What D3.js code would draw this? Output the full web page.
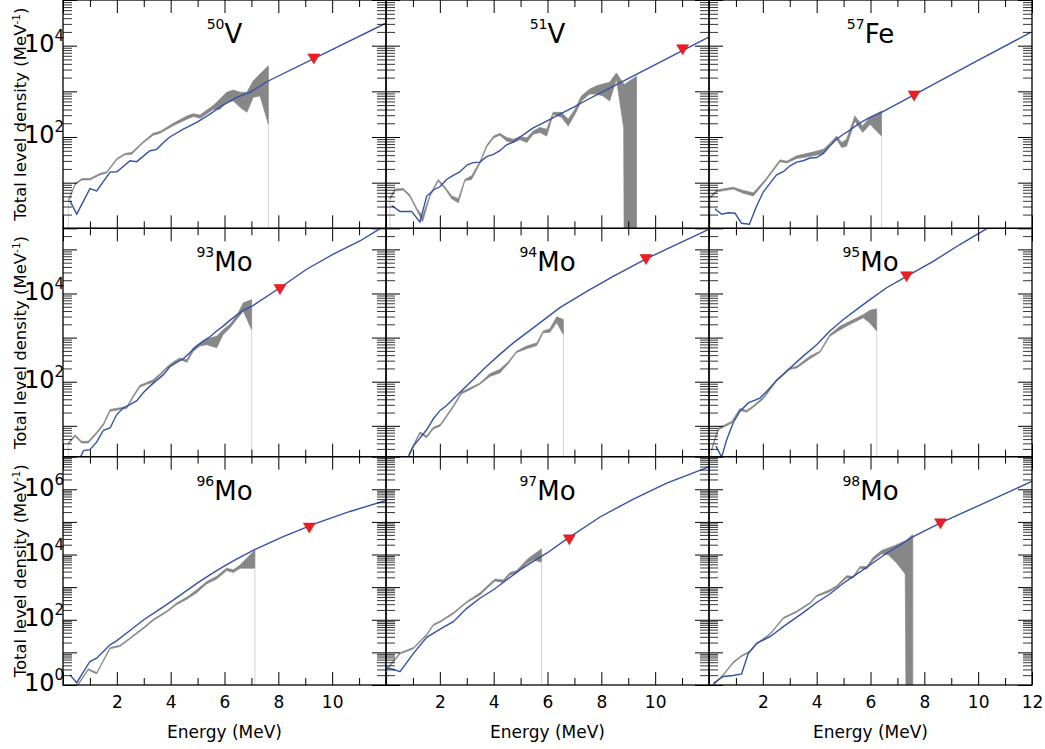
<!DOCTYPE html>
<html>
<head>
<meta charset="utf-8">
<script src="https://cdn.jsdelivr.net/npm/d3@7"></script>
<style>
  body { margin: 0; background: #fff; }
  svg { display: block; font-family: "DejaVu Sans", sans-serif; }
</style>
</head>
<body>
<div id="container"></div>
<script>
/* global d3 */

const width = 1045;
const height = 749;
const left = 63;
const panelW = 323;
const panelH = 228.33;

// axes setup
const xDomain = [0, 12];
const rowDomains = [[1, 1e5], [2, 3e5], [1, 1e7]];
const rowLabelExps = [[2, 4], [2, 4], [0, 2, 4, 6]];
const xTickLabels = [[2, 4, 6, 8, 10], [2, 4, 6, 8, 10], [2, 4, 6, 8, 10, 12]];

// nuclei (panel titles)
const massNumbers = [50, 51, 57, 93, 94, 95, 96, 97, 98];
const elements = ["V", "V", "Fe", "Mo", "Mo", "Mo", "Mo", "Mo", "Mo"];

// theory curves: [E (MeV), log10 rho]
const theory50V = [[0.26,0.60],[0.51,0.31],[1.0,0.87],[1.25,0.82],[1.75,1.23],[2.0,1.24],[2.49,1.48],[2.74,1.46],[3.23,1.70],[3.48,1.73],[3.79,1.91],[3.97,2.0],[4.47,2.17],[4.97,2.32],[5.46,2.50],[5.95,2.70],[6.45,2.87],[6.95,2.98],[7.57,3.21],[12.02,4.50]];
const theory51V = [[0.21,0.50],[0.52,0.37],[0.95,0.37],[1.26,0.14],[1.51,0.70],[1.76,0.84],[2.0,0.91],[2.25,1.07],[2.5,1.16],[2.75,1.24],[3.02,1.39],[3.24,1.44],[3.49,1.45],[3.74,1.57],[3.99,1.62],[4.23,1.70],[4.48,1.83],[4.73,1.89],[4.98,2.0],[5.23,2.10],[5.47,2.20],[5.97,2.35],[6.46,2.50],[6.96,2.65],[7.46,2.81],[7.95,2.96],[8.44,3.11],[8.94,3.26],[11.97,4.18]];
const theory57Fe = [[0.22,0.43],[0.47,0.31],[0.72,0.34],[0.97,0.33],[1.21,0.11],[1.50,0.09],[1.77,0.49],[2.02,0.80],[2.27,0.99],[2.51,1.17],[2.76,1.24],[3.01,1.37],[3.26,1.45],[3.50,1.48],[3.75,1.54],[4.0,1.55],[4.25,1.64],[4.49,1.80],[4.74,1.95],[4.99,2.06],[5.24,2.15],[5.49,2.26],[5.73,2.35],[5.98,2.43],[6.41,2.54],[7.10,2.76],[7.96,3.03],[9.94,3.66],[11.95,4.29]];
const theory93Mo = [[0.62,0.25],[0.76,0.44],[1.0,0.46],[1.25,0.63],[1.50,0.90],[1.75,0.95],[1.99,1.25],[2.24,1.41],[2.49,1.48],[2.74,1.57],[2.98,1.75],[3.23,1.90],[3.48,2.03],[3.73,2.16],[3.97,2.34],[4.22,2.44],[4.47,2.52],[4.72,2.66],[4.97,2.81],[5.21,2.92],[5.46,3.02],[5.71,3.15],[5.95,3.26],[6.20,3.39],[6.45,3.51],[6.70,3.62],[7.07,3.73],[8.06,4.13],[9.05,4.55],[10.04,4.89],[11.03,5.19],[11.78,5.47],[12.0,5.55]];
const theory94Mo = [[0.80,0.25],[0.83,0.29],[1.02,0.54],[1.26,0.72],[1.51,0.91],[1.76,1.16],[2.01,1.35],[2.25,1.46],[2.75,1.76],[3.24,2.05],[3.74,2.35],[4.23,2.62],[4.73,2.88],[5.47,3.22],[6.46,3.68],[7.46,4.05],[8.44,4.39],[9.68,4.79],[10.92,5.15],[11.97,5.45]];
const theory95Mo = [[0.26,0.54],[0.47,0.29],[0.66,0.69],[0.90,1.07],[1.15,1.33],[1.46,1.52],[1.89,1.63],[2.14,1.78],[2.51,2.03],[3.01,2.31],[3.50,2.58],[4.0,2.84],[4.49,3.15],[4.99,3.41],[5.49,3.64],[5.98,3.86],[6.60,4.13],[7.34,4.39],[8.33,4.73],[9.32,5.11],[10.32,5.47],[10.5,5.53]];
const theory96Mo = [[0.26,0.31],[0.51,0.07],[1.0,0.72],[1.25,0.82],[1.75,1.23],[2.0,1.36],[2.5,1.68],[3.0,2.0],[3.5,2.27],[4.0,2.55],[4.5,2.84],[5.0,3.13],[5.5,3.4],[6.0,3.65],[6.5,3.88],[7.12,4.15],[8.18,4.55],[9.42,4.96],[10.66,5.32],[12.02,5.66]];
const theory97Mo = [[0.03,0.53],[0.27,0.48],[0.52,0.41],[1.02,0.97],[1.51,1.46],[2.01,1.71],[2.50,1.94],[3.0,2.35],[3.49,2.66],[3.99,2.92],[4.48,3.22],[4.98,3.53],[5.47,3.79],[5.97,4.04],[6.71,4.47],[7.95,5.15],[9.19,5.70],[10.43,6.19],[11.97,6.68]];
const theory98Mo = [[0.16,0.05],[0.53,0.26],[0.90,0.29],[1.21,0.34],[1.46,0.97],[1.77,1.28],[2.27,1.48],[2.76,1.79],[3.50,2.22],[4.0,2.53],[4.49,2.79],[4.99,3.12],[5.49,3.40],[5.98,3.68],[6.60,4.04],[7.59,4.55],[8.58,4.96],[9.94,5.47],[11.99,6.24]];

// experimental bands: [E (MeV), log10 rho low, log10 rho high]
const exp50V = [[0.2,0.58,0.62],[0.45,0.95,0.98],[0.70,1.06,1.09],[1.0,1.06,1.09],[1.37,1.17,1.20],[1.62,1.21,1.24],[2.0,1.50,1.53],[2.3,1.61,1.64],[2.55,1.62,1.66],[2.98,1.87,1.90],[3.35,2.04,2.08],[3.6,2.08,2.12],[4.1,2.25,2.30],[4.6,2.39,2.46],[4.84,2.45,2.51],[5.09,2.41,2.48],[5.58,2.60,2.69],[5.83,2.61,2.83],[6.08,2.76,2.98],[6.33,2.79,3.03],[6.58,2.65,2.98],[6.83,2.54,2.98],[7.07,2.87,3.23],[7.32,2.90,3.38],[7.63,2.28,3.56]];
const exp51V = [[0.15,0.63,0.67],[0.33,0.82,0.86],[0.64,0.84,0.87],[0.89,0.69,0.73],[1.14,0.40,0.44],[1.36,0.14,0.27],[1.63,0.69,0.73],[1.94,1.03,1.07],[2.19,0.87,0.91],[2.44,0.65,0.71],[2.69,0.56,0.65],[2.93,1.04,1.07],[3.18,1.07,1.15],[3.49,1.42,1.46],[3.74,1.78,1.82],[4.0,1.98,2.02],[4.23,2.04,2.08],[4.48,1.91,1.99],[4.73,1.88,1.95],[4.98,1.94,2.01],[5.23,1.88,1.98],[5.47,2.06,2.13],[5.72,2.10,2.21],[5.97,2.02,2.17],[6.21,2.50,2.54],[6.52,2.43,2.54],[6.77,2.24,2.39],[7.02,2.50,2.61],[7.26,2.79,2.90],[7.57,2.94,3.05],[7.82,2.94,3.12],[8.06,2.90,3.16],[8.31,2.79,3.20],[8.56,3.27,3.40],[8.83,2.20,3.16],[8.86,-2,3.15],[9.31,-2,3.33]];
const exp57Fe = [[0.05,0.66,0.70],[0.29,0.80,0.84],[0.90,0.86,0.90],[1.27,0.77,0.83],[1.65,0.71,0.78],[2.08,1.02,1.06],[2.64,1.46,1.50],[2.89,1.43,1.47],[3.26,1.53,1.59],[3.50,1.55,1.62],[3.87,1.59,1.67],[4.25,1.64,1.73],[4.49,1.82,1.86],[4.74,1.95,2.02],[4.93,1.77,1.88],[5.11,1.80,1.95],[5.42,2.35,2.46],[5.71,2.10,2.24],[5.98,2.28,2.43],[6.41,2.02,2.57]];
const exp93Mo = [[0.2,0.58,0.62],[0.45,0.76,0.80],[0.69,0.61,0.65],[0.94,0.61,0.65],[1.25,0.82,0.86],[1.50,1.01,1.05],[1.75,1.33,1.37],[2.12,1.37,1.41],[2.37,1.39,1.43],[2.61,1.65,1.69],[2.86,1.88,1.92],[3.11,1.94,1.98],[3.36,1.99,2.05],[3.60,2.14,2.18],[3.85,2.29,2.33],[4.10,2.41,2.45],[4.35,2.50,2.54],[4.60,2.44,2.50],[4.84,2.69,2.77],[5.09,2.81,2.88],[5.34,2.84,2.97],[5.71,2.77,3.03],[5.95,3.07,3.18],[6.20,3.22,3.30],[6.45,3.41,3.49],[6.70,3.60,3.79],[7.01,3.18,3.86]];
const exp94Mo = [[0.85,0.33,0.37],[1.26,0.82,0.86],[1.51,0.73,0.77],[1.76,0.93,0.97],[2.01,0.99,1.03],[2.25,1.20,1.24],[2.50,1.42,1.46],[2.81,1.73,1.77],[3.12,1.82,1.86],[3.49,1.94,1.97],[3.86,2.12,2.18],[4.23,2.20,2.28],[4.54,2.41,2.45],[4.85,2.66,2.69],[5.23,2.75,2.81],[5.60,2.82,2.88],[5.84,3.11,3.15],[6.09,3.12,3.20],[6.34,3.34,3.47],[6.59,3.07,3.41]];
const exp95Mo = [[0.10,0.44,0.48],[0.35,0.91,0.95],[0.84,1.06,1.10],[1.15,1.35,1.39],[1.40,1.31,1.35],[1.65,1.42,1.46],[2.02,1.61,1.65],[2.51,2.01,2.05],[3.01,2.28,2.31],[3.26,2.31,2.35],[3.75,2.52,2.58],[4.12,2.66,2.69],[4.49,3.03,3.07],[4.87,3.18,3.26],[5.24,3.30,3.37],[5.73,3.45,3.52],[5.98,3.33,3.62],[6.23,3.15,3.65]];
const exp96Mo = [[0.52,-0.05,0.0],[0.63,0.08,0.12],[0.94,0.46,0.50],[1.25,0.34,0.38],[1.75,1.11,1.15],[2.12,1.18,1.22],[2.49,1.41,1.45],[2.98,1.72,1.76],[3.36,1.98,2.02],[3.85,2.23,2.27],[4.22,2.46,2.51],[4.60,2.63,2.69],[4.97,2.83,2.92],[5.34,3.10,3.17],[5.71,3.25,3.33],[6.08,3.51,3.58],[6.33,3.45,3.53],[6.58,3.58,3.68],[7.13,3.58,4.14]];
const exp97Mo = [[0.03,0.46,0.50],[0.52,0.95,0.99],[1.02,1.11,1.15],[1.51,1.52,1.56],[1.76,1.82,1.86],[2.01,1.92,1.96],[2.50,2.18,2.22],[3.0,2.52,2.56],[3.49,2.76,2.83],[4.05,3.19,3.25],[4.36,3.14,3.22],[4.61,3.38,3.45],[4.86,3.43,3.51],[5.23,3.72,3.84],[5.47,3.84,3.99],[5.78,3.76,4.17]];
const exp98Mo = [[0.16,-0.02,0.02],[0.53,0.29,0.33],[0.90,0.67,0.71],[1.21,0.87,0.91],[1.52,1.0,1.04],[1.77,1.24,1.28],[2.27,1.54,1.58],[2.76,2.03,2.07],[3.26,2.23,2.27],[3.75,2.49,2.53],[4.0,2.71,2.75],[4.49,2.86,2.92],[4.74,3.0,3.04],[5.11,3.28,3.35],[5.36,3.28,3.33],[5.61,3.58,3.63],[5.86,3.55,3.63],[6.10,3.82,3.92],[6.41,4.02,4.12],[6.66,3.99,4.20],[6.97,3.74,4.30],[7.29,3.40,4.42],[7.33,-2,4.44],[7.57,-2,4.61]];

// rho at the neutron separation energy: [Sn (MeV), log10 rho]
const sn50V = [9.32, 3.71];
const sn51V = [11.02, 3.91];
const sn57Fe = [7.62, 2.90];
const sn93Mo = [8.06, 4.09];
const sn94Mo = [9.66, 4.77];
const sn95Mo = [7.34, 4.38];
const sn96Mo = [9.15, 4.81];
const sn97Mo = [6.81, 4.45];
const sn98Mo = [8.60, 4.94];

const theories = [theory50V, theory51V, theory57Fe, theory93Mo, theory94Mo, theory95Mo, theory96Mo, theory97Mo, theory98Mo];
const exps = [exp50V, exp51V, exp57Fe, exp93Mo, exp94Mo, exp95Mo, exp96Mo, exp97Mo, exp98Mo];
const sns = [sn50V, sn51V, sn57Fe, sn93Mo, sn94Mo, sn95Mo, sn96Mo, sn97Mo, sn98Mo];

//create svg
const svg = d3
  .select("#container")
  .append("svg")
  .attr("width", width)
  .attr("height", height);

const blue = "#3352a6";
const gray = "#878787";

theories.forEach((theory, i) => {
  const row = Math.floor(i / 3);
  const col = i % 3;
  const x0 = left + col * panelW;
  const y0 = row * panelH;
  const dom = rowDomains[row];

  const x = d3.scaleLinear(xDomain, [x0, x0 + panelW]);
  const y = d3.scaleLog(dom, [y0 + panelH, y0]);

  svg
    .append("clipPath")
    .attr("id", "clip" + i)
    .append("rect")
    .attr("x", x0)
    .attr("y", y0)
    .attr("width", panelW)
    .attr("height", panelH);

  const plot = svg.append("g").attr("clip-path", `url(#clip${i})`);

  // experimental band
  const exp = exps[i];
  const area = d3
    .area()
    .x((d) => x(d[0]))
    .y0((d) => y(10 ** d[1]))
    .y1((d) => y(10 ** d[2]));
  plot
    .append("path")
    .datum(exp)
    .attr("d", area)
    .attr("fill", gray)
    .attr("stroke", gray)
    .attr("stroke-width", 0.7);

  // error bars dropping to zero at the ends
  [exp[0], exp[exp.length - 1]].forEach((d) => {
    plot
      .append("line")
      .attr("x1", x(d[0]))
      .attr("x2", x(d[0]))
      .attr("y1", y(10 ** d[1]))
      .attr("y2", y(dom[0]))
      .attr("stroke", "#d4d4d4")
      .attr("stroke-width", 1);
  });

  // theory line
  const line = d3
    .line()
    .x((d) => x(d[0]))
    .y((d) => y(10 ** d[1]));
  plot
    .append("path")
    .datum(theory)
    .attr("d", line)
    .attr("fill", "none")
    .attr("stroke", blue)
    .attr("stroke-width", 1.4);

  // ticks, inward on all four sides
  const xMajor = d3.range(0, 13, 2);
  const xMinor = d3.range(1, 12, 2);
  const lo = Math.floor(Math.log10(dom[0]));
  const hi = Math.ceil(Math.log10(dom[1]));
  const yMajor = d3.range(lo, hi + 1).map((e) => 10 ** e).filter((v) => v >= dom[0] && v <= dom[1]);
  const yMinor = [];
  d3.range(lo, hi + 1).forEach((e) => {
    for (let m = 2; m <= 9; m++) {
      const v = m * 10 ** e;
      if (v > dom[0] && v < dom[1]) yMinor.push(v);
    }
  });

  const tickAxes = [
    [d3.axisBottom(x).tickValues(xMajor).tickSize(-13), `translate(0,${y0 + panelH})`, 1],
    [d3.axisBottom(x).tickValues(xMinor).tickSize(-7), `translate(0,${y0 + panelH})`, 1],
    [d3.axisTop(x).tickValues(xMajor).tickSize(-13), `translate(0,${y0})`, 1],
    [d3.axisTop(x).tickValues(xMinor).tickSize(-7), `translate(0,${y0})`, 1],
    [d3.axisLeft(y).tickValues(yMajor).tickSize(-14), `translate(${x0},0)`, 1],
    [d3.axisLeft(y).tickValues(yMinor).tickSize(-9), `translate(${x0},0)`, 0.8],
    [d3.axisRight(y).tickValues(yMajor).tickSize(-14), `translate(${x0 + panelW},0)`, 1],
    [d3.axisRight(y).tickValues(yMinor).tickSize(-9), `translate(${x0 + panelW},0)`, 0.8],
  ];
  tickAxes.forEach(([ax, tr, sw]) => {
    const g = svg.append("g").attr("transform", tr).call(ax.tickFormat(""));
    g.select(".domain").remove();
    g.selectAll("line").attr("stroke", "#000").attr("stroke-width", sw);
  });

  // frame
  svg
    .append("rect")
    .attr("x", x0)
    .attr("y", y0)
    .attr("width", panelW)
    .attr("height", panelH)
    .attr("fill", "none")
    .attr("stroke", "#000")
    .attr("stroke-width", 1.3);

  // marker at Sn
  const sn = sns[i];
  svg
    .append("path")
    .attr("d", "M-6,-5L6,-5L0,5Z")
    .attr("transform", `translate(${x(sn[0])},${y(10 ** sn[1])})`)
    .attr("fill", "#ee1d23")
    .attr("stroke", "#d01010")
    .attr("stroke-width", 0.5);

  // title
  const title = svg
    .append("text")
    .attr("x", x0 + panelW / 2)
    .attr("y", y0 + 43)
    .attr("text-anchor", "middle")
    .attr("fill", "#000");
  title.append("tspan").attr("font-size", 14).attr("dy", -14).text(massNumbers[i]);
  title.append("tspan").attr("font-size", 26).attr("dy", 14).text(elements[i]);

  // y tick labels on the left column
  if (col === 0) {
    const yl = svg
      .append("g")
      .attr("transform", `translate(${x0},0)`)
      .call(
        d3
          .axisLeft(y)
          .tickValues(rowLabelExps[row].map((e) => 10 ** e))
          .tickSize(0)
          .tickPadding(-1)
      );
    yl.select(".domain").remove();
    yl.attr("font-family", null).attr("font-size", null);
    yl.selectAll("text").each(function (d) {
      const t = d3.select(this);
      t.text("").attr("dy", "0.36em").attr("fill", "#000");
      t.append("tspan").attr("font-size", 24).text("10");
      t.append("tspan")
        .attr("font-size", 15)
        .attr("dy", -11)
        .text(Math.round(Math.log10(d)));
    });

    const yLab = svg
      .append("text")
      .attr("transform", `translate(26,${y0 + panelH / 2}) rotate(-90)`)
      .attr("text-anchor", "middle")
      .attr("font-size", 16.5)
      .attr("fill", "#000");
    yLab.append("tspan").text("Total level density (MeV");
    yLab.append("tspan").attr("font-size", 10.5).attr("dy", -6).text("-1");
    yLab.append("tspan").attr("dy", 6).text(")");
  }

  // x tick labels on the bottom row
  if (row === 2) {
    const xl = svg
      .append("g")
      .attr("transform", `translate(0,${y0 + panelH})`)
      .call(d3.axisBottom(x).tickValues(xTickLabels[col]).tickSize(0).tickPadding(11));
    xl.select(".domain").remove();
    xl.attr("font-family", null).attr("font-size", 17);
    xl.selectAll("text").attr("fill", "#000");

    svg
      .append("text")
      .attr("x", x0 + panelW / 2)
      .attr("y", 738)
      .attr("text-anchor", "middle")
      .attr("font-size", 17)
      .attr("fill", "#000")
      .text("Energy (MeV)");
  }
});
</script>
</body>
</html>
